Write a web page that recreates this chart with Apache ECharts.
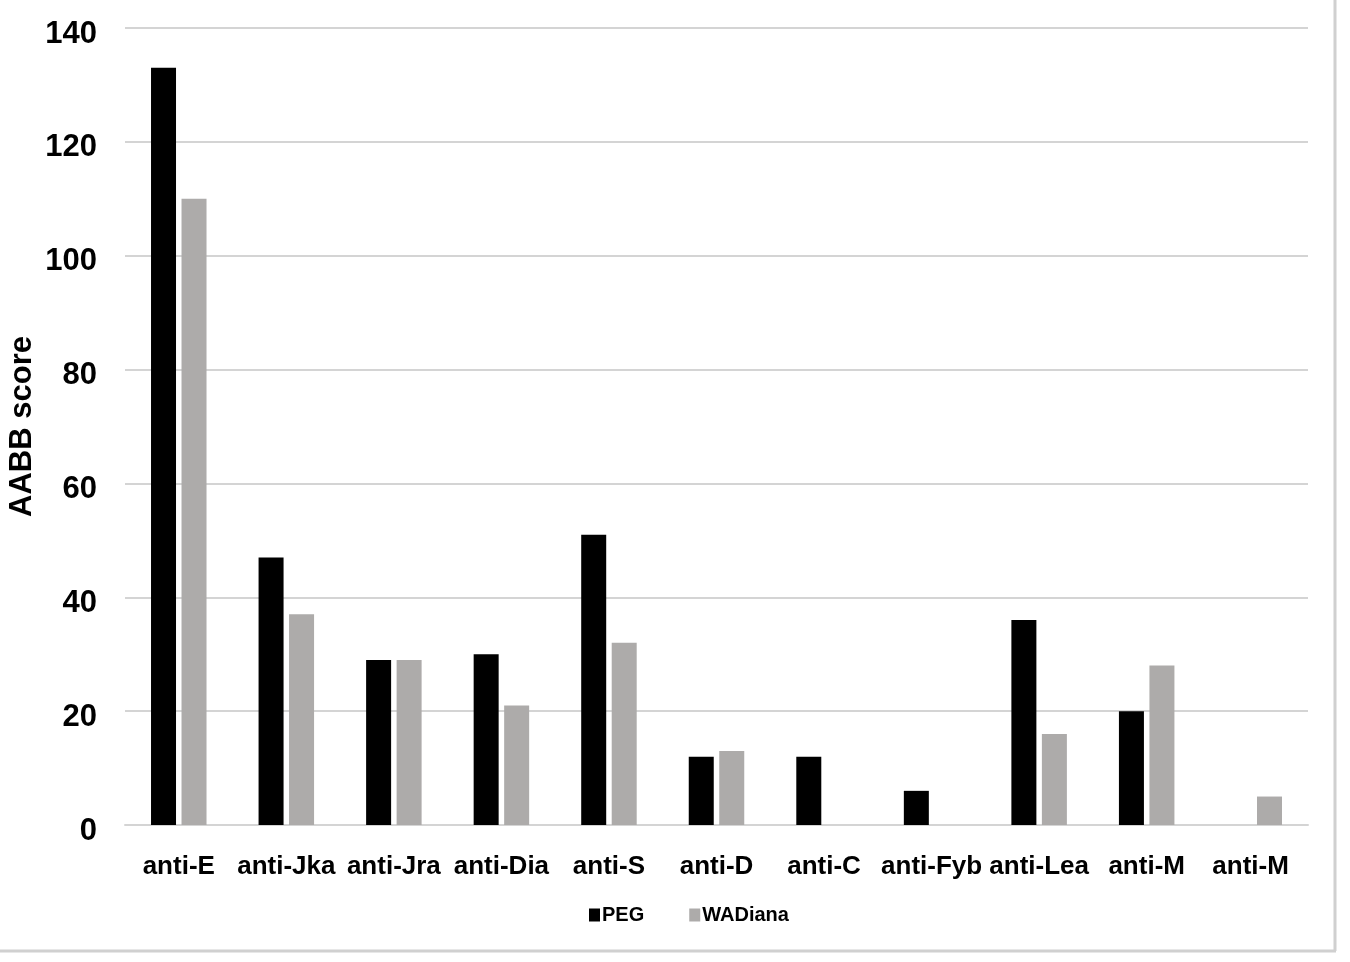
<!DOCTYPE html>
<html>
<head>
<meta charset="utf-8">
<script src="https://cdn.jsdelivr.net/npm/echarts@6/dist/echarts.min.js"></script>
<style>
html,body{margin:0;padding:0;background:#fff;}
#chart{width:1350px;height:962px;}
</style>
</head>
<body>
<div id="chart"></div>
<script>
var categories = ['anti-E','anti-Jka','anti-Jra','anti-Dia','anti-S','anti-D','anti-C','anti-Fyb','anti-Lea','anti-M','anti-M '];
var pegValues = [133, 47, 29, 30, 51, 12, 12, 6, 36, 20, 0];
var wadianaValues = [110, 37, 29, 21, 32, 13, 0, 0, 16, 28, 5];
var yTicks = [0, 20, 40, 60, 80, 100, 120, 140];

var chart = echarts.init(document.getElementById('chart'), null, {renderer:'canvas'});
var font = 'Arial, "Liberation Sans", sans-serif';
chart.setOption({
  backgroundColor: '#ffffff',
  animation: false,
  grid: {left: 125, right: 42, top: 28, bottom: 137, containLabel: false, outerBoundsMode: 'none'},
  legend: {
    data: ['PEG', 'WADiana'],
    left: 584, top: 900,
    itemWidth: 11, itemHeight: 13, itemGap: 45,
    icon: 'rect',
    textStyle: {fontFamily: font, fontWeight: 'bold', fontSize: 20, color: '#000', padding: [0,0,0,-3]}
  },
  xAxis: {
    type: 'category',
    data: categories,
    axisLine: {show: true, lineStyle: {color: '#d4d4d4', width: 2}},
    axisTick: {show: false},
    axisLabel: {fontFamily: font, fontWeight: 'bold', fontSize: 26, color: '#000', margin: 29, interval: 0}
  },
  yAxis: {
    type: 'value',
    min: yTicks[0], max: yTicks[yTicks.length-1], interval: 20,
    name: 'AABB score',
    nameLocation: 'middle',
    nameGap: 87,
    nameMoveOverlap: false,
    nameRotate: 90,
    nameTextStyle: {fontFamily: font, fontWeight: 'bold', fontSize: 31, color: '#000'},
    axisLine: {show: false},
    axisTick: {show: false},
    splitLine: {lineStyle: {color: '#d4d4d4', width: 2}},
    axisLabel: {
      margin: 28,
      formatter: function (v) { return '{a|' + v + '}'; },
      rich: {a: {fontFamily: font, fontWeight: 'bold', fontSize: 31, color: '#000', padding: [12, 0, 0, 0]}}
    }
  },
  series: [
    {name: 'PEG', type: 'bar', data: pegValues, barWidth: 25, barGap: '22%',
     itemStyle: {color: '#000000'}},
    {name: 'WADiana', type: 'bar', data: wadianaValues, barWidth: 25,
     itemStyle: {color: '#adabaa'}}
  ],
  graphic: [
    {type: 'line', shape: {x1: 1335, y1: 0, x2: 1335, y2: 951}, style: {stroke: '#d0d0d0', lineWidth: 3}},
    {type: 'line', shape: {x1: 0, y1: 951, x2: 1336, y2: 951}, style: {stroke: '#d0d0d0', lineWidth: 3}}
  ]
});
</script>
</body>
</html>
